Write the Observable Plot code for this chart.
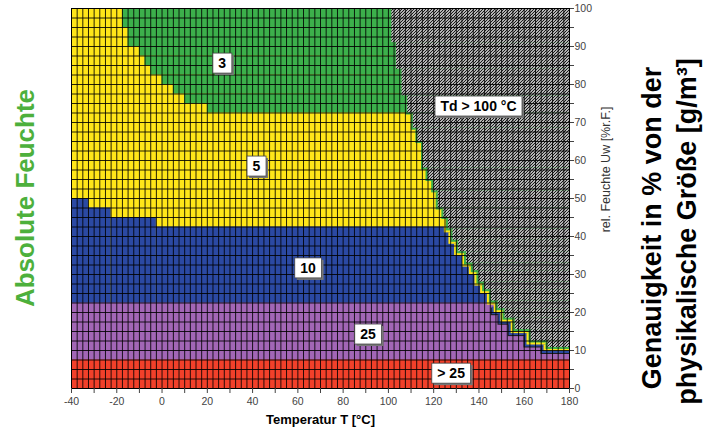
<!DOCTYPE html>
<html><head><meta charset="utf-8">
<script src="https://cdn.jsdelivr.net/npm/d3@7"></script>
<script src="https://cdn.jsdelivr.net/npm/@observablehq/plot@0.6"></script>
<style>body{margin:0;background:#fff;}</style>
</head><body><div id="chart"></div>
<script>
// ---- data ----
const xTicks = [-40,-30,-20,-10,0,10,20,30,40,50,60,70,80,90,100,110,120,130,140,150,160,170,180];
const yTicks = [0,5,10,15,20,25,30,35,40,45,50,55,60,65,70,75,80,85,90,95,100];
const classColors = {gt25:"#F2402A", c25:"#A266B6", c10:"#2B49A3", c5:"#FFE619", c3:"#3CB04B"};
// class 3 (green): RH band low/high and starting temperature
const greenLo = [95, 90, 87.5, 85, 82.5, 80, 77.5, 75, 72.5];
const greenHi = [100, 95, 90, 87.5, 85, 82.5, 80, 77.5, 75];
const greenT  = [-17.5, -15, -10, -7.5, -5, 0, 5, 10, 20];
// class 10 (blue): temperature intervals and upper RH
const blueT1 = [-40, -32.5, -22.5, -2.5];
const blueT2 = [-32.5, -22.5, -2.5, 180];
const blueTop = [50, 47.5, 45, 42.5];
const purpleTop = 22.5;   // class 25
const redTop = 7.5;       // class > 25
// Td > 100 °C region: start temperature and lower RH per step
const grayT  = [101.5,103.5,106,108.5,111,113,115.5,117.5,120,122,124.5,126.5,128.5,131,134.5,137.5,140,142.5,145.5,148.5,151.5,156,163,170.5];
const grayLo = [91,84,77,72.5,68.5,65,58,55,52,47.5,45,42,39,36,33,31,28,26,23,21,18.5,15.5,12.5,10.8];
// labels
const labelText = ["3","5","10","25","> 25","Td > 100 °C"];
const labelT  = [26.6, 41.7, 64.5, 91, 127.7, 139.8];
const labelRH = [85.5, 58.4, 31.6, 14.2, 3.9, 74.2];

// ---- tables ----
const greenRects = greenT.map((t,i)=>({x1:t, x2:180, y1:greenLo[i], y2:greenHi[i]}));
const blueRects = blueT1.map((t,i)=>({x1:t, x2:blueT2[i], y1:0, y2:blueTop[i]}));
const grayRects = grayT.map((t,i)=>({x1:t, x2:180, y1:grayLo[i], y2: i===0 ? 100 : grayLo[i-1]}));
const labels = labelText.map((s,i)=>({text:s, x:labelT[i], y:labelRH[i]}));
const gridX = d3.range(-40, 180.001, 2.5);
const gridY = d3.range(0, 100.001, 2.5);
const R = (d,o)=>Plot.rect(d, Object.assign({x1:"x1",x2:"x2",y1:"y1",y2:"y2"}, o));
const T = (s,o)=>Plot.text([s], Object.assign({textAnchor:"middle", lineAnchor:"middle"}, o));

const plot = Plot.plot({
  width: 713, height: 436,
  marginLeft: 71, marginRight: 144, marginTop: 8, marginBottom: 48,
  x: {domain: [-40, 180]},
  y: {domain: [0, 100]},
  style: {fontFamily: "'Liberation Sans', Arial, sans-serif", fontSize: "10.5px", background: "#fff", overflow: "visible"},
  marks: [
    R([{x1:-40,x2:180,y1:0,y2:100}], {fill: classColors.c5}),
    R(greenRects, {fill: classColors.c3}),
    R(blueRects, {fill: classColors.c10}),
    R([{x1:-40,x2:180,y1:0,y2:purpleTop}], {fill: classColors.c25}),
    R([{x1:-40,x2:180,y1:0,y2:redTop}], {fill: classColors.gt25}),
    R(grayRects.filter(d=>d.y2<=23), {fill:"#1a1a1a", dx:-7, dy:7, insetRight:-7}),
    R(grayRects.filter(d=>d.y2<=23), {fill: classColors.c10, dx:-6, dy:6, insetRight:-6}),
    R(grayRects.filter(d=>d.y2<=72.5), {fill: classColors.c5, dx:-4, dy:4, insetRight:-4}),
    R(grayRects, {fill: classColors.c3, dx:-2, dy:2, insetRight:-2}),
    R(grayRects, {fill: "url(#hatch)"}),
    Plot.ruleX(gridX, {stroke: "#000", strokeWidth: 1, strokeOpacity: 0.85}),
    Plot.ruleY(gridY, {stroke: "#000", strokeWidth: 1, strokeOpacity: 0.85}),
    Plot.frame({stroke: "#000"}),
    Plot.axisX({ticks: xTicks, tickFormat: d => d % 20 === 0 ? `${d}` : "", tickSize: 5, tickPadding: 4, color: "#444", label: null}),
    Plot.axisY({anchor: "right", ticks: yTicks, tickFormat: d => d % 10 === 0 ? `${d}` : "", tickSize: 4, tickPadding: 1, color: "#444", label: null}),
    Plot.text(labels, {x:"x", y:"y", text:"text", fontSize: 14, fontWeight: "bold", fill: "#000", ariaDescription: "region-labels"}),
    T("Temperatur T [°C]", {frameAnchor: "bottom", dy: 31, fontSize: 13, fontWeight: "bold", fill: "#000"}),
    T("rel. Feuchte Uw [%r.F.]", {frameAnchor: "top-right", dx: 36, dy: 161, rotate: -90, fontSize: 12.5, fill: "#333"}),
    T("Genauigkeit in % von der", {frameAnchor: "top-right", dx: 83, dy: 219.5, rotate: -90, fontSize: 27, fontWeight: "bold", fill: "#000"}),
    T("physikalische Größe [g/m³]", {frameAnchor: "top-right", dx: 118, dy: 223, rotate: -90, fontSize: 27, fontWeight: "bold", fill: "#000"}),
    T("Absolute Feuchte", {frameAnchor: "top-left", dx: -46, dy: 189.5, rotate: -90, fontSize: 26, fontWeight: "bold", fill: "#4DB03C"})
  ]
});
document.getElementById("chart").appendChild(plot);

// hatch pattern for Td > 100 °C
const ns = "http://www.w3.org/2000/svg";
const defs = d3.select(plot).insert("defs", ":first-child");
const pat = defs.append("pattern").attr("id","hatch").attr("patternUnits","userSpaceOnUse").attr("width",3).attr("height",3);
pat.append("rect").attr("width",3).attr("height",3).attr("fill","#fff");
pat.append("path").attr("d","M-1,1 L1,-1 M0,3 L3,0 M2,4 L4,2").attr("stroke","#111").attr("stroke-width",1.2);

// white boxes behind region labels
const lg = plot.querySelector('g[aria-description="region-labels"]');
lg.querySelectorAll("text").forEach(t => {
  const b = t.getBBox();
  const tr = t.getAttribute("transform");
  const px = 5.5, py = 2;
  const sh = document.createElementNS(ns, "rect");
  sh.setAttribute("x", b.x - px + 2); sh.setAttribute("y", b.y - py + 2);
  sh.setAttribute("width", b.width + 2*px); sh.setAttribute("height", b.height + 2*py);
  sh.setAttribute("fill", "#777");
  const r = document.createElementNS(ns, "rect");
  r.setAttribute("x", b.x - px); r.setAttribute("y", b.y - py);
  r.setAttribute("width", b.width + 2*px); r.setAttribute("height", b.height + 2*py);
  r.setAttribute("fill", "#fff"); r.setAttribute("stroke", "#444"); r.setAttribute("stroke-width", 0.8);
  if (tr) { sh.setAttribute("transform", tr); r.setAttribute("transform", tr); }
  lg.insertBefore(sh, t); lg.insertBefore(r, t);
});
</script>
</body></html>
